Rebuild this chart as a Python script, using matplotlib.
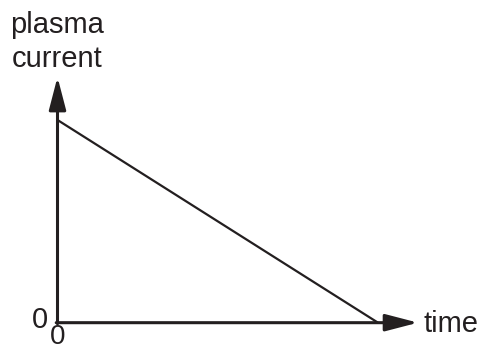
import matplotlib
matplotlib.use("Agg")
import matplotlib.pyplot as plt

# plasma current decays linearly to zero
time = [0.0, 1.0]
current = [1.0, 0.0]

ink = '#231f20'
plt.rcParams['font.family'] = ['Liberation Sans', 'DejaVu Sans']

fig = plt.figure(figsize=(4.78, 3.49), dpi=100)
ax = fig.add_axes([0.1203, 0.0754, 0.6705, 0.5808])
ax.set_xlim(0, 1)
ax.set_ylim(0, 1)
ax.axis('off')

ax.plot(time, current, color=ink, lw=1.6, solid_capstyle='butt', clip_on=False)

# axes drawn as arrows
arrow = dict(arrowstyle='-|>,head_length=1.0,head_width=0.26', color=ink, lw=2.2,
             mutation_scale=20, shrinkA=0, shrinkB=0)
ax.annotate('', xy=(1.125, 0), xytext=(-0.004, 0), arrowprops=arrow, annotation_clip=False)
ax.annotate('', xy=(0, 1.212), xytext=(0, -0.005), arrowprops=arrow, annotation_clip=False)

fs = 21
ax.text(0, 1.43, 'plasma', ha='center', va='baseline', fontsize=fs, color=ink, clip_on=False)
ax.text(0, 1.261, 'current', ha='center', va='baseline', fontsize=fs, color=ink, clip_on=False)
ax.text(1.1435, -0.044, 'time', ha='left', va='baseline', fontsize=fs, color=ink, clip_on=False)
ax.text(-0.03, -0.026, '0', ha='right', va='baseline', fontsize=fs, color=ink, clip_on=False)
ax.text(0, -0.104, '0', ha='center', va='baseline', fontsize=20, color=ink, clip_on=False)

fig.savefig('out.png', dpi=100)
